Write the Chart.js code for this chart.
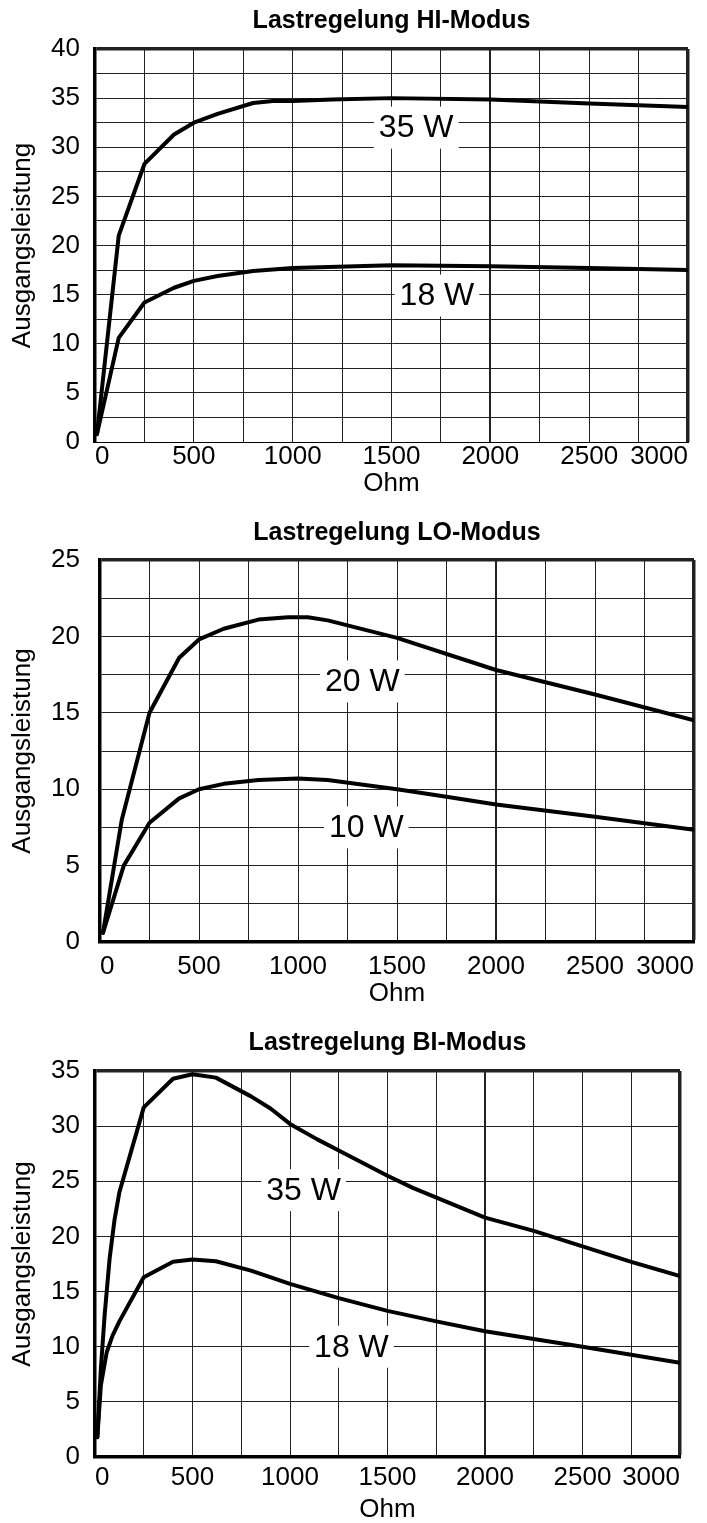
<!DOCTYPE html>
<html>
<head>
<meta charset="utf-8">
<script src="https://cdn.jsdelivr.net/npm/chart.js@4"></script>
<style>
  html, body { margin: 0; padding: 0; background: #fff; overflow: hidden; }
  .box { position: absolute; left: 0; width: 707px; }
</style>
</head>
<body>
<div class="box" style="top:0;height:500px"><canvas id="hi"></canvas></div>
<div class="box" style="top:500px;height:515px"><canvas id="lo"></canvas></div>
<div class="box" style="top:1015px;height:508px"><canvas id="bi"></canvas></div>
<script>
// HI-Modus
const hiOhm35 = [10, 120, 250, 400, 500, 620, 800, 900, 1000, 1200, 1500, 2000, 2500, 3000]
const hiWatt35 = [0.8, 21.0, 28.3, 31.3, 32.5, 33.4, 34.5, 34.7, 34.7, 34.85, 35.0, 34.85, 34.45, 34.1]
const hiOhm18 = [10, 120, 250, 400, 500, 620, 800, 1000, 1500, 2000, 2500, 3000]
const hiWatt18 = [0.8, 10.6, 14.2, 15.7, 16.4, 16.9, 17.4, 17.7, 18.0, 17.9, 17.7, 17.5]
const hiLabelText = ['35 W', '18 W']
const hiLabelOhm = [1625, 1730]
const hiLabelWatt = [32, 14.9]

// LO-Modus
const loOhm20 = [15, 110, 250, 400, 500, 625, 800, 950, 1050, 1150, 1500, 2000, 2250, 2500, 3000]
const loWatt20 = [0.6, 8.0, 15.0, 18.6, 19.8, 20.5, 21.1, 21.25, 21.25, 21.05, 19.9, 17.8, 17.0, 16.2, 14.5]
const loOhm10 = [15, 120, 250, 400, 500, 625, 800, 1000, 1150, 1500, 1750, 2000, 2500, 3000]
const loWatt10 = [0.6, 5.0, 7.8, 9.4, 10.0, 10.35, 10.6, 10.7, 10.6, 10.0, 9.5, 9.0, 8.2, 7.35]
const loLabelText = ['20 W', '10 W']
const loLabelOhm = [1325, 1345]
const loLabelWatt = [17.05, 7.5]

// BI-Modus
const biOhm35 = [12, 30, 50, 75, 100, 125, 250, 400, 500, 620, 800, 900, 1000, 1140, 1250, 1500, 1630, 2000, 2250, 2500, 2750, 3000]
const biWatt35 = [1.8, 8, 13, 18, 21.5, 24, 31.7, 34.3, 34.7, 34.4, 32.7, 31.6, 30.2, 28.8, 27.8, 25.5, 24.4, 21.7, 20.5, 19.1, 17.7, 16.4]
const biOhm18 = [12, 30, 60, 90, 125, 250, 400, 500, 620, 800, 1000, 1250, 1500, 1750, 2000, 2500, 3000]
const biWatt18 = [1.8, 6.5, 9.5, 11, 12.3, 16.3, 17.7, 17.9, 17.75, 16.9, 15.7, 14.4, 13.25, 12.3, 11.4, 10.0, 8.55]
const biLabelText = ['35 W', '18 W']
const biLabelOhm = [1070, 1315]
const biLabelWatt = [24.2, 10]

const xTicksMax = 3000
const FONT = "'Liberation Sans', Arial, sans-serif"

Chart.defaults.font.family = FONT
Chart.defaults.color = '#000'

// text labels on the curves, with white box that cuts the grid
const curveLabels = {
  id: 'curveLabels',
  afterDatasetsDraw(chart, args, opts) {
    const { ctx, scales: { x, y } } = chart
    ctx.save()
    ctx.font = '32px ' + FONT
    ctx.textAlign = 'center'
    ctx.textBaseline = 'middle'
    opts.text.forEach((t, i) => {
      const px = x.getPixelForValue(opts.ohm[i])
      const py = y.getPixelForValue(opts.watt[i])
      const w = ctx.measureText(t).width + 10
      const h = 42
      ctx.fillStyle = '#fff'
      ctx.fillRect(px - w / 2, py - h / 2, w, h)
      ctx.fillStyle = '#000'
      ctx.fillText(t, px, py + 1)
    })
    ctx.restore()
  }
}

const line = (xs, ys) => ({
  data: xs.map((x, i) => ({ x: x, y: ys[i] })),
  borderColor: '#000',
  borderWidth: 4,
  pointRadius: 0,
  tension: 0,
  fill: false,
  borderJoinStyle: 'round',
  borderCapStyle: 'round'
})

function makeChart(id, o) {
  const ctx = document.getElementById(id).getContext('2d')
  return new Chart(ctx, {
    type: 'line',
    data: { datasets: o.series.map(s => line(s[0], s[1])) },
    options: {
      responsive: true,
      maintainAspectRatio: false,
      animation: false,
      events: [],
      layout: { padding: { left: 0, right: o.right, top: 0, bottom: 0 } },
      plugins: {
        legend: { display: false },
        tooltip: { enabled: false },
        title: {
          display: true,
          text: o.title,
          fullSize: false,
          color: '#000',
          font: { size: 25, weight: 'bold', lineHeight: 1 },
          padding: { top: o.titleTop, bottom: o.titleBottom }
        },
        curveLabels: o.labels
      },
      scales: {
        x: {
          type: 'linear',
          min: 0,
          max: xTicksMax,
          afterFit: s => { s.height = o.xHeight },
          ticks: {
            stepSize: 250,
            align: 'inner',
            maxRotation: 0,
            autoSkip: false,
            padding: o.xPad,
            font: { size: 26, lineHeight: 1 },
            callback: v => (v % 500 === 0 ? v : '')
          },
          grid: {
            drawTicks: false,
            color: '#222',
            lineWidth: c => (c.tick.value === xTicksMax ? 3.5 : c.tick.value === 2000 ? 2 : 1)
          },
          border: { display: true, color: '#000', width: o.bottomBorder },
          title: {
            display: true,
            text: 'Ohm',
            font: { size: 26, lineHeight: 1 },
            padding: { top: 0, bottom: o.ohmBottom }
          }
        },
        y: {
          min: 0,
          max: o.yMax,
          afterFit: s => { s.width = o.left },
          ticks: {
            stepSize: o.yStep,
            autoSkip: false,
            padding: o.yPad,
            font: { size: 26, lineHeight: 1 },
            callback: v => (v % 5 === 0 ? v : '')
          },
          grid: {
            drawTicks: false,
            color: '#222',
            lineWidth: c => (c.tick.value === o.yMax ? 3.5 : 1)
          },
          border: { display: true, color: '#000', width: 3.5 },
          title: {
            display: true,
            text: 'Ausgangsleistung',
            font: { size: 26, lineHeight: 1 },
            padding: { top: 10, bottom: 0 }
          }
        }
      }
    },
    plugins: [curveLabels]
  })
}

makeChart('hi', {
  title: 'Lastregelung HI-Modus',
  series: [[hiOhm35, hiWatt35], [hiOhm18, hiWatt18]],
  labels: { text: hiLabelText, ohm: hiLabelOhm, watt: hiLabelWatt },
  yMax: 40, yStep: 2.5,
  left: 95, right: 19, titleTop: 9, titleBottom: 15,
  xHeight: 58, xPad: 2, ohmBottom: 3, yPad: 15, bottomBorder: 1
})

makeChart('lo', {
  title: 'Lastregelung LO-Modus',
  series: [[loOhm20, loWatt20], [loOhm10, loWatt10]],
  labels: { text: loLabelText, ohm: loLabelOhm, watt: loLabelWatt },
  yMax: 25, yStep: 2.5,
  left: 100, right: 13, titleTop: 21, titleBottom: 14,
  xHeight: 73, xPad: 12, ohmBottom: 8, yPad: 20, bottomBorder: 3.5
})

makeChart('bi', {
  title: 'Lastregelung BI-Modus',
  series: [[biOhm35, biWatt35], [biOhm18, biWatt18]],
  labels: { text: biLabelText, ohm: biLabelOhm, watt: biLabelWatt },
  yMax: 35, yStep: 5,
  left: 95, right: 27, titleTop: 16, titleBottom: 15,
  xHeight: 66, xPad: 8, ohmBottom: 0, yPad: 15, bottomBorder: 3.5
})
</script>
</body>
</html>
